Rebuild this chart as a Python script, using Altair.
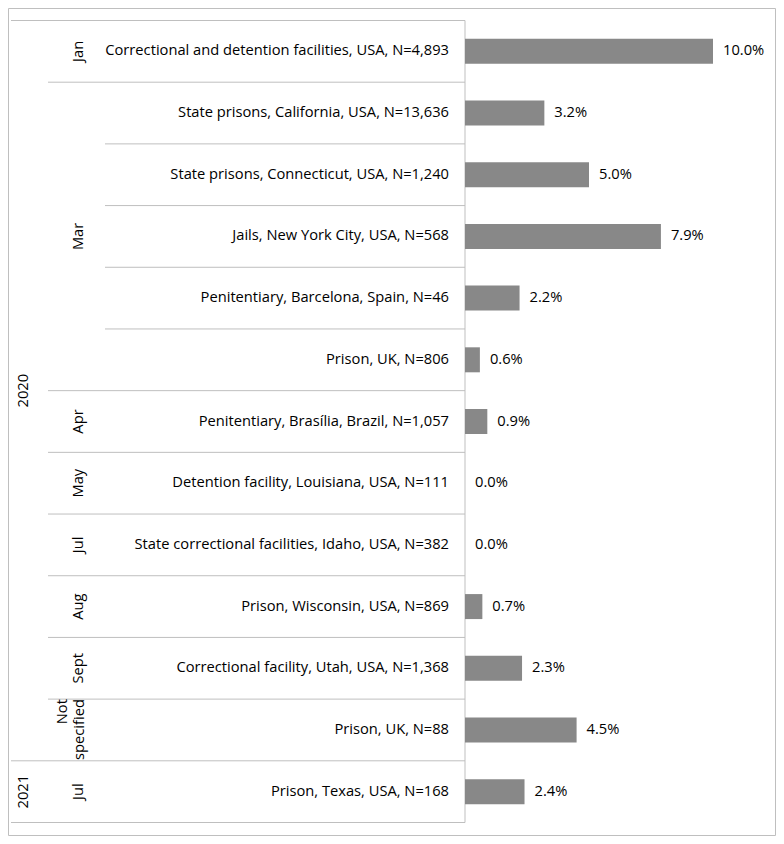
import altair as alt
import pandas as pd

years = ["2020"] * 12 + ["2021"]
months = ["Jan", "Mar", "Mar", "Mar", "Mar", "Mar", "Apr", "May", "Jul", "Aug", "Sept", "Not specified", "Jul"]
settings = [
    "Correctional and detention facilities, USA, N=4,893",
    "State prisons, California, USA, N=13,636",
    "State prisons, Connecticut, USA, N=1,240",
    "Jails, New York City, USA, N=568",
    "Penitentiary, Barcelona, Spain, N=46",
    "Prison, UK, N=806",
    "Penitentiary, Brasília, Brazil, N=1,057",
    "Detention facility, Louisiana, USA, N=111",
    "State correctional facilities, Idaho, USA, N=382",
    "Prison, Wisconsin, USA, N=869",
    "Correctional facility, Utah, USA, N=1,368",
    "Prison, UK, N=88",
    "Prison, Texas, USA, N=168",
]
values = [10.0, 3.2, 5.0, 7.9, 2.2, 0.6, 0.9, 0.0, 0.0, 0.7, 2.3, 4.5, 2.4]

FONT = "Open Sans"
FS = 14.7
GRID = "#bfbfbf"
TXT = "#000000"
n = len(values)

rows = pd.DataFrame({
    "row": list(range(n)),
    "yc": [i + 0.5 for i in range(n)],
    "setting": settings,
    "value": values,
    "label": [f"{v:.1f}%" for v in values],
})


def groups(keys):
    out = []
    start = 0
    for i in range(1, n + 1):
        if i == n or keys[i] != keys[start]:
            out.append((keys[start], start, i))
            start = i
    return out


mkeys = list(zip(years, months))
mgroups = groups(mkeys)
ygroups = groups(years)

month_df = pd.DataFrame([
    {"month": k[1], "start": s, "mid": (s + e) / 2}
    for k, s, e in mgroups if k[1] != "Not specified"
])
ns_df = pd.DataFrame([
    {"month": k[1], "start": s, "mid": (s + e) / 2}
    for k, s, e in mgroups if k[1] == "Not specified"
])
year_df = pd.DataFrame([{"year": k, "mid": (s + e) / 2} for k, s, e in ygroups])

bounds = []
for i in range(n + 1):
    if i == 0 or i == n or years[i] != years[i - 1]:
        x0 = 3
    elif months[i] != months[i - 1]:
        x0 = 40
    else:
        x0 = 97
    bounds.append({"b": i, "x0": x0, "x1": 457})
bounds_df = pd.DataFrame(bounds)

yscale = alt.Scale(domain=[0, n], range=[12.5, 814.5], padding=0, nice=False, zero=False)
xscale = alt.Scale(domain=[0, 10], range=[457, 705], padding=0, nice=False)

base = alt.Chart(rows)

frame = alt.Chart(pd.DataFrame({"a": [0]})).mark_rect(fill=None, stroke=GRID, strokeWidth=1).encode(
    x=alt.value(0.5), x2=alt.value(767.5), y=alt.value(0.5), y2=alt.value(827.5)
)

bars = base.mark_bar(size=25, color="#888888").encode(
    x=alt.X("value:Q", scale=xscale, axis=None),
    x2=alt.datum(0),
    y=alt.Y("yc:Q", scale=yscale, axis=None),
)

vlabels = base.mark_text(align="left", baseline="middle", dx=10, font=FONT, fontSize=FS, color=TXT).encode(
    x=alt.X("value:Q", scale=xscale, axis=None),
    y=alt.Y("yc:Q", scale=yscale, axis=None),
    text="label:N",
)

clabels = base.mark_text(align="right", baseline="middle", font=FONT, fontSize=FS, color=TXT).encode(
    x=alt.value(441),
    y=alt.Y("yc:Q", scale=yscale, axis=None),
    text="setting:N",
)

mlabels = alt.Chart(month_df).mark_text(align="center", baseline="middle", angle=270, font=FONT, fontSize=FS, color=TXT).encode(
    x=alt.value(71),
    y=alt.Y("mid:Q", scale=yscale, axis=None),
    text="month:N",
)

nslabels = alt.Chart(ns_df).mark_text(align="right", baseline="middle", angle=270, font=FONT, fontSize=FS,
                                      color=TXT, lineBreak=" ", lineHeight=17, dy=1).encode(
    x=alt.value(54),
    y=alt.Y("start:Q", scale=yscale, axis=None),
    text="month:N",
)

ylabels = alt.Chart(year_df).mark_text(align="center", baseline="middle", angle=270, font=FONT, fontSize=FS, color=TXT).encode(
    x=alt.value(16),
    y=alt.Y("mid:Q", scale=yscale, axis=None),
    text="year:N",
)

hlines = alt.Chart(bounds_df).mark_rule(color=GRID, strokeWidth=1).encode(
    x=alt.X("x0:Q", scale=None),
    x2="x1:Q",
    y=alt.Y("b:Q", scale=yscale, axis=None),
)

vaxis = alt.Chart(pd.DataFrame({"a": [0], "b": [n]})).mark_rule(color=GRID, strokeWidth=1).encode(
    x=alt.value(457),
    y=alt.Y("a:Q", scale=yscale, axis=None),
    y2="b:Q",
)

chart = alt.layer(frame, hlines, vaxis, bars, vlabels, clabels, mlabels, nslabels, ylabels).properties(
    width=768, height=828, padding=0, autosize=alt.AutoSizeParams(type="none")
).configure_view(strokeWidth=0)

chart.save("out.html", embed_options={"renderer": "svg", "actions": False})
